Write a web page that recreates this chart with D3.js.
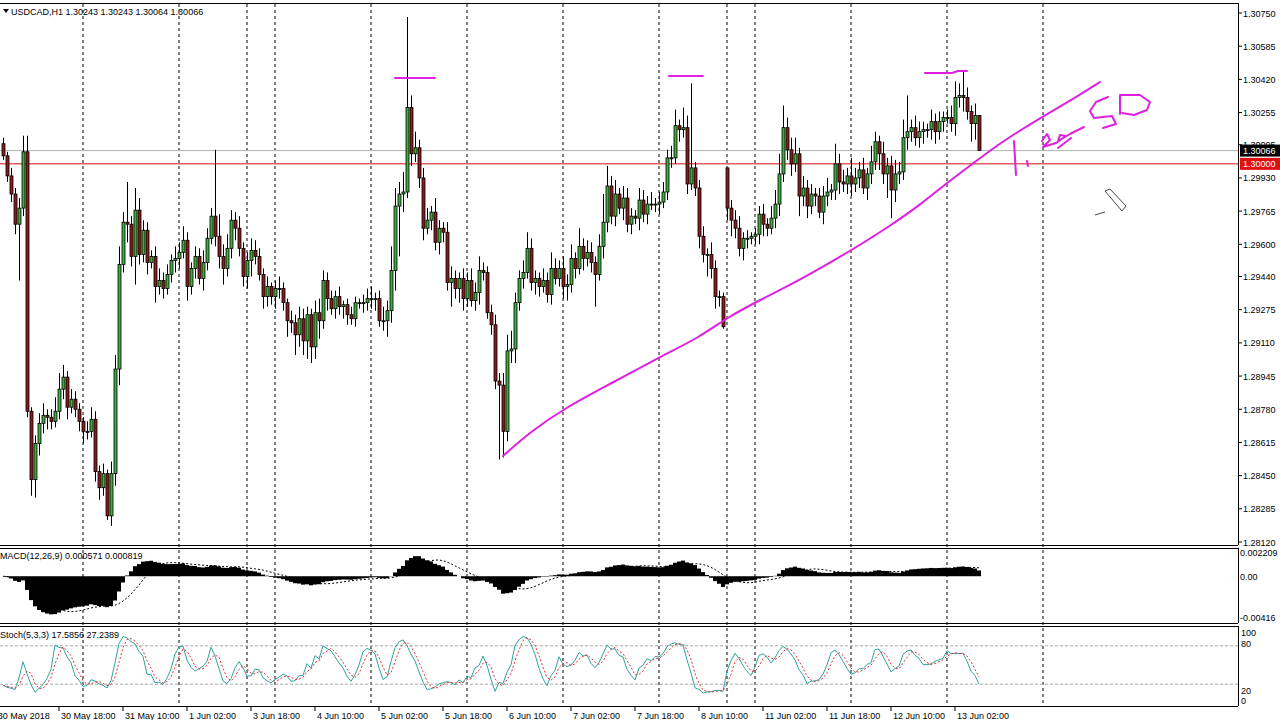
<!DOCTYPE html>
<html><head><meta charset="utf-8"/>
<title>USDCAD,H1</title>
<script src="https://d3js.org/d3.v7.min.js"></script>
<style>
  body { margin:0; padding:0; width:1280px; height:720px; background:#fff; overflow:hidden; }
  svg text { font-family: 'Liberation Sans', Arial, sans-serif; font-size:9px; fill:#000; }
</style>
</head><body>
<svg id="chart" width="1280" height="720"></svg>
<script>
// price data, in pips above 1.28000 (one value per hourly candle)
const base = 1.28;
const closes = [
  204,194,185,170,178,206,77,43,61,71, 75,74,72,77,88,94,79,83,78,72,
  67,67,73,47,39,46,25,46,98,150, 171,170,154,177,155,167,151,154,139,142,
  138,145,152,153,156,162,139,148,154,143, 151,163,174,164,154,148,158,172,168,158,
  144,152,157,154,145,134,139,134,138,138, 131,122,121,115,123,112,125,109,126,122,
  142,133,
  128,134,129,130,125,123,131,131,131,133, 133,133,122,122,127,147,179,185,186,228,
  205,208,193,168,172,176,161,168,166,141, 143,138,143,133,142,132,136,147,146,126,
  120,92,90,67,107,108,131,143,146,158, 141,143,139,142,135,148,143,148,139,140,
  153,148,159,153,156,151,145,159,171,189, 174,185,178,183,170,174,173,182,175,180,
  180,180,181,
  186,203,203,219,217,218,190,198,188,164, 155,155,148,134,134,119,178,172,168,158,
  163,163,164,165,175,170,168,173,180,195, 218,207,200,205,184,188,179,185,184,176,
  184,186,187,200,191,190,194,190,193,197, 188,195,201,211,205,195,199,187,195,196,
  213,216,218,213,216,217,217,221,216,221, 223,223,220,233,234,233,226,220,224,206.6
];
const firstOpen = 210;
const gapOpens = { 181: 198 };          // weekend gap (8 Jun -> 11 Jun)
const wickUp = [
  3,2,4,3,5,8,8,2,4,5, 6,3,4,7,8,6,3,5,4,3, 2,5,6,4,3,5,2,6,7,9, 5,20,4,11,6,5,4,3,5,6,
  4,5,3,6,5,7,4,3,5,4, 6,5,4,33,11,6,7,5,4,6, 3,4,6,5,4,3,5,2,4,6, 3,2,5,4,6,5,4,3,6,7,
  5,4,
  4,3,5,2,3,4,3,2,4,5, 6,3,4,7,5,12,9,6,10,45, 6,8,4,5,6,3,7,4,3,5, 6,4,3,5,4,6,5,7,4,3,
  4,5,4,6,8,9,5,4,6,8, 5,4,3,6,4,8,5,4,6,5, 7,3,9,4,6,5,3,6,14,10, 5,7,3,6,5,4,3,6,5,4,
  6,3,5,
  5,4,6,8,3,10,6,42,3,4, 5,3,6,4,3,2,0,4,5,6, 3,4,2,3,4,5,3,6,7,10, 11,5,6,8,3,6,4,5,3,4,
  5,7,3,10,5,6,4,9,5,4, 6,3,8,5,3,6,4,5,7,5, 9,18,4,6,5,4,3,6,4,5, 3,4,6,8,6,12,5,3,6,0
];
const wickDn = [
  2,3,4,5,28,4,3,8,9,6, 5,6,4,3,4,5,6,3,4,5, 6,4,3,5,6,4,2,5,6,8, 4,9,5,14,5,4,6,3,8,4,
  5,3,4,6,5,3,7,4,5,3, 6,4,3,5,6,8,4,5,6,4, 5,6,8,4,3,6,5,4,6,5, 4,8,5,10,6,7,9,8,6,9,
  4,6,
  3,5,4,6,5,3,4,3,5,4, 5,6,3,5,8,6,10,25,9,3, 6,4,5,6,3,5,4,6,5,4, 12,5,7,6,4,3,5,6,4,3,
  5,4,37,13,5,6,7,4,5,3, 4,6,5,3,4,5,3,4,6,7, 4,5,3,6,4,5,16,3,6,5, 4,5,3,6,4,5,3,6,4,5,
  3,4,5,
  3,4,5,3,6,4,5,3,4,6, 4,11,5,6,5,1,6,8,5,4, 6,5,3,4,5,6,4,3,5,6, 4,5,6,4,10,5,6,4,5,3,
  6,5,4,5,6,4,5,6,4,5, 3,6,5,4,8,5,12,14,6,5, 4,6,5,4,5,6,4,5,6,4, 5,3,4,6,5,7,4,9,8,0
];
const priceTicks = ["1.28120","1.28285","1.28450","1.28615","1.28780","1.28945","1.29110","1.29275",
  "1.29440","1.29600","1.29765","1.29930","1.30095","1.30255","1.30420","1.30585","1.30750"];
const timeLabels = ["30 May 2018","30 May 18:00","31 May 10:00","1 Jun 02:00","3 Jun 18:00","4 Jun 10:00",
  "5 Jun 02:00","5 Jun 18:00","6 Jun 10:00","7 Jun 02:00","7 Jun 18:00","8 Jun 10:00","11 Jun 02:00",
  "11 Jun 18:00","12 Jun 10:00","13 Jun 02:00"];
const timeIdx = [-1.8,14,30,46,62,78,94,110,126,142,158,174,190,206,222,238];
const gridIdx = [20,44,61,68,92,116,140,164,181,188,212,236,260];
const bid = 1.30066, alertLevel = 1.30000;

// build candles
const candles = closes.map((c, i) => {
  const o = i === 0 ? firstOpen : (gapOpens[i] !== undefined ? gapOpens[i] : closes[i - 1]);
  return { i, o: base + o / 1e4, c: base + c / 1e4,
    h: base + (Math.max(o, c) + wickUp[i]) / 1e4, l: base + (Math.min(o, c) - wickDn[i]) / 1e4 };
});

const svg = d3.select("#chart");
const R = 1238;
const x = d3.scaleLinear().domain([0, 1]).range([3, 7]);
const y = d3.scaleLinear().domain([1.28120, 1.30750]).range([542, 13]);

// grid
svg.append("g").selectAll("line").data(gridIdx).join("line")
  .attr("x1", d => x(d)).attr("x2", d => x(d)).attr("y1", 4).attr("y2", 706)
  .attr("stroke", "#000").attr("stroke-dasharray", "3,3").attr("stroke-width", 1);

// horizontal lines
svg.append("line").attr("x1", 0).attr("x2", R).attr("y1", y(bid)).attr("y2", y(bid)).attr("stroke", "#b4b4b4");
svg.append("line").attr("x1", 0).attr("x2", R).attr("y1", y(alertLevel)).attr("y2", y(alertLevel)).attr("stroke", "#d01010");

// candles
const cg = svg.append("g");
cg.selectAll("line").data(candles).join("line")
  .attr("x1", d => x(d.i) + 0.5).attr("x2", d => x(d.i) + 0.5)
  .attr("y1", d => y(d.h)).attr("y2", d => y(d.l)).attr("stroke", "#000");
cg.selectAll("rect").data(candles).join("rect")
  .attr("x", d => x(d.i) - 1).attr("width", 3)
  .attr("y", d => y(Math.max(d.o, d.c)))
  .attr("height", d => Math.max(1, Math.abs(y(d.o) - y(d.c))))
  .attr("fill", d => d.c >= d.o ? "#3fae3f" : "#8a1c1c")
  .attr("stroke", "#000").attr("stroke-width", 0.8);

// MACD (12,26,9)
const ema = (arr, n) => { const k = 2 / (n + 1); let e = arr[0]; return arr.map(v => (e = v * k + e * (1 - k))); };
const cl = candles.map(d => d.c);
const e12 = ema(cl, 12), e26 = ema(cl, 26);
const macd = cl.map((_, i) => e12[i] - e26[i]);
const sig = macd.map((_, i) => d3.mean(macd.slice(Math.max(0, i - 8), i + 1)));
const ym = d3.scaleLinear().domain([-0.00416, 0.002209]).range([620, 553]);
svg.append("g").selectAll("rect").data(macd).join("rect")
  .attr("x", (d, i) => x(i) - 2).attr("width", 4)
  .attr("y", d => Math.min(ym(d), ym(0))).attr("height", d => Math.abs(ym(d) - ym(0)))
  .attr("fill", "#000");
svg.append("path").datum(sig)
  .attr("d", d3.line().x((d, i) => x(i)).y(d => ym(d)))
  .attr("fill", "none").attr("stroke", "#000").attr("stroke-dasharray", "2,2");

// Stochastic (5,3,3)
const hi = candles.map(d => d.h), lo = candles.map(d => d.l);
const K = cl.map((_, i) => {
  let num = 0, den = 0;
  for (let j = Math.max(0, i - 2); j <= i; j++) {
    const s = Math.max(0, j - 4);
    const hh = d3.max(hi.slice(s, j + 1)), ll = d3.min(lo.slice(s, j + 1));
    num += cl[j] - ll; den += hh - ll;
  }
  return den ? 100 * num / den : 50;
});
const D = K.map((_, i) => d3.mean(K.slice(Math.max(0, i - 2), i + 1)));
const ys = d3.scaleLinear().domain([0, 100]).range([697, 633]);
[80, 20].forEach(l => svg.append("line").attr("x1", 0).attr("x2", R).attr("y1", ys(l)).attr("y2", ys(l))
  .attr("stroke", "#aaa").attr("stroke-dasharray", "3,2"));
svg.append("path").datum(K).attr("d", d3.line().x((d, i) => x(i)).y(d => ys(d)))
  .attr("fill", "none").attr("stroke", "#2fa3a0").attr("stroke-width", 1);
svg.append("path").datum(D).attr("d", d3.line().x((d, i) => x(i)).y(d => ys(d)))
  .attr("fill", "none").attr("stroke", "#e03030").attr("stroke-dasharray", "2,2");

// frames
const fr = svg.append("g").attr("stroke", "#000");
[3.5, 545.5, 548.5, 623.5, 626.5, 706.5].forEach(v => fr.append("line").attr("x1", 0).attr("x2", R).attr("y1", v).attr("y2", v));
[[3, 545], [548, 623], [626, 706]].forEach(p => fr.append("line").attr("x1", R + 0.5).attr("x2", R + 0.5).attr("y1", p[0]).attr("y2", p[1]));

// price axis
const pa = svg.append("g");
priceTicks.forEach(t => {
  const py = y(+t);
  pa.append("line").attr("x1", R).attr("x2", R + 4).attr("y1", py).attr("y2", py).attr("stroke", "#000");
  pa.append("text").attr("x", R + 5).attr("y", py + 3.5).text(t);
});
[[bid, "#000", "1.30066"], [alertLevel, "#e01010", "1.30000"]].forEach(b => {
  pa.append("rect").attr("x", R + 2).attr("y", y(b[0]) - 6).attr("width", 40).attr("height", 12).attr("fill", b[1]);
  pa.append("text").attr("x", R + 5).attr("y", y(b[0]) + 3.5).style("fill", "#fff").text(b[2]);
});
[["0.002209", ym(0.002209) + 3], ["0.00", ym(0) + 4], ["-0.00416", ym(-0.00416) + 1]].forEach(t =>
  pa.append("text").attr("x", R + 2).attr("y", t[1]).text(t[0]));
[["100", 636], ["80", 647], ["20", 694], ["0", 704]].forEach(t =>
  pa.append("text").attr("x", R + 3).attr("y", t[1]).text(t[0]));

// time axis
const ta = svg.append("g");
timeLabels.forEach((t, k) => {
  const tx = x(timeIdx[k]);
  ta.append("line").attr("x1", tx).attr("x2", tx).attr("y1", 706).attr("y2", 711).attr("stroke", "#000");
  ta.append("text").attr("x", tx + 2).attr("y", 719).text(t);
});

// labels
svg.append("path").attr("d", "M3,9 L9,9 L6,13 Z").attr("fill", "#000");
svg.append("text").attr("x", 11).attr("y", 15).text("USDCAD,H1  1.30243 1.30243 1.30064 1.30066");
svg.append("text").attr("x", 0).attr("y", 559).text("MACD(12,26,9) 0.000571 0.000819");
svg.append("text").attr("x", 0).attr("y", 638).text("Stoch(5,3,3) 17.5856 27.2389");

// hand drawings (magenta)
const pen = svg.append("g").attr("fill", "none").attr("stroke", "#e020e0").attr("stroke-width", 2)
  .attr("stroke-linecap", "round").attr("stroke-linejoin", "round");
const trend = [[503,456],[530,432],[565,408],[610,384],[660,357],[700,337],[728,317],[760,300],[800,280],
  [852,250],[890,226],[920,205],[948,182],[975,162],[1000,143],[1040,118],[1075,98],[1100,82]];
pen.append("path").attr("d", d3.line().curve(d3.curveBasis)(trend));
pen.append("path").attr("d", "M395,78 L435,78 M669,76 L703,76 M925,73 L952,73 L958,71 L967,71");
pen.append("path").attr("d", "M1014,141 L1016,175 M1027,161 L1028,166");
pen.append("path").attr("d", "M1042,141 L1047,134 L1050,140 L1043,147 L1056,143 L1066,136 L1060,135 L1058,141 L1070,134 L1084,127 M1058,148 L1071,138");
pen.append("path").attr("d", "M1108,97 L1096,102 L1090,111 L1094,118 L1112,116 L1116,124 L1103,128");
pen.append("path").attr("d", "M1120,96 L1120,114 M1120,95 L1140,95 L1150,102 L1147,110 L1134,115 L1122,113");

// cursor
svg.append("path").attr("d", "M1105,191 L1110,189 L1126,206 L1122,211 Z M1095,215 L1105,212")
  .attr("fill", "#fff").attr("stroke", "#444").attr("stroke-width", 1);
</script>
</body></html>
